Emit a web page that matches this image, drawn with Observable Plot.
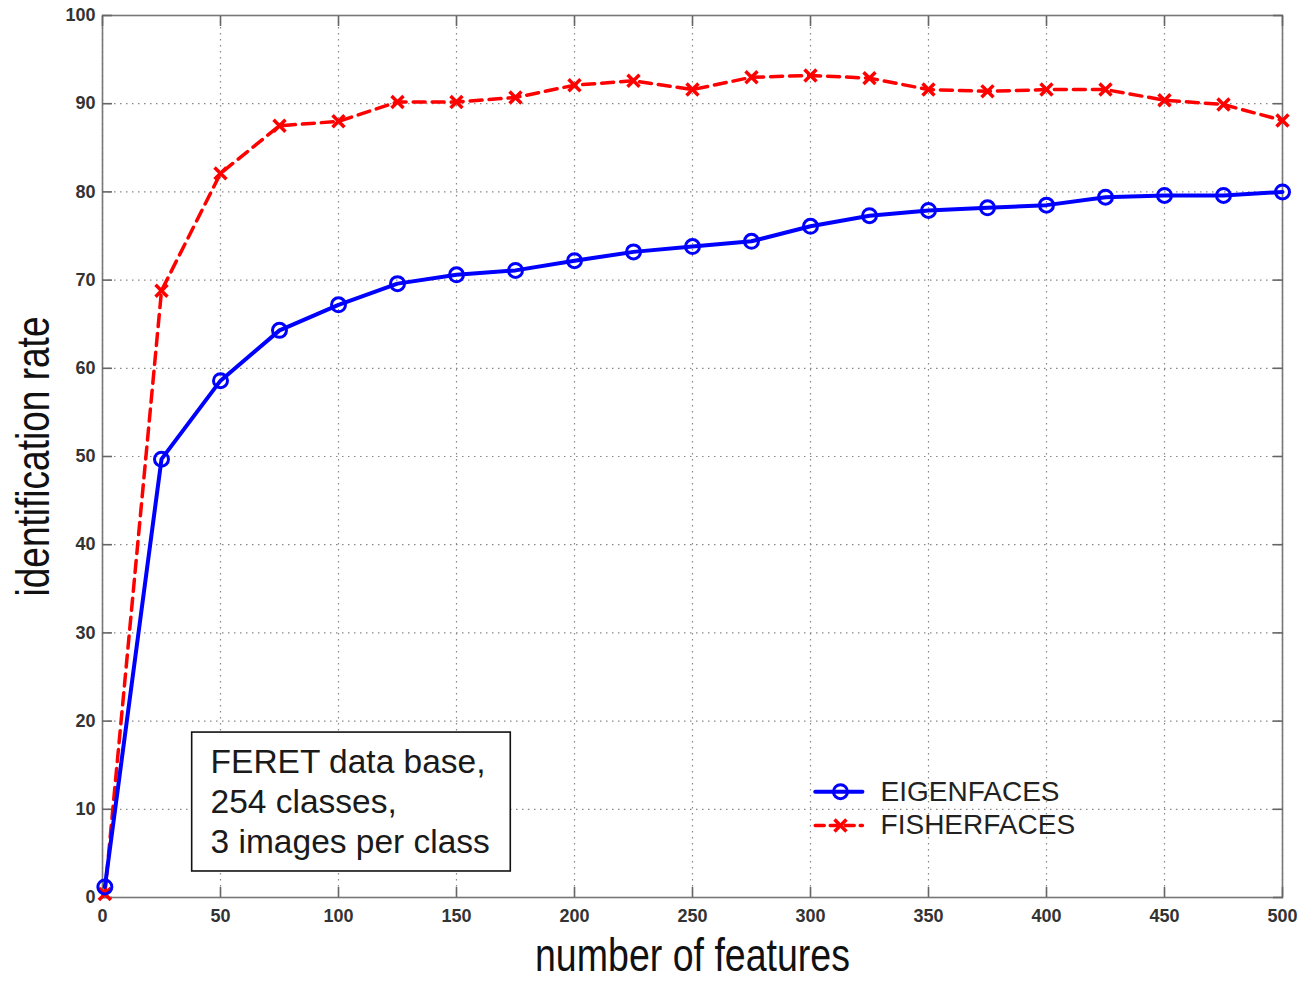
<!DOCTYPE html>
<html><head><meta charset="utf-8">
<script src="https://cdn.jsdelivr.net/npm/d3@7"></script>
<script src="https://cdn.jsdelivr.net/npm/@observablehq/plot@0.6"></script>
<style>body{margin:0;background:#fff}#chart{width:1302px;height:981px}</style>
</head><body><div id="chart"></div>
<script>
// ---- data ----
const features = [1, 25, 50, 75, 100, 125, 150, 175, 200, 225, 250, 275, 300, 325, 350, 375, 400, 425, 450, 475, 500];
const eigenfaces = [1.2, 49.7, 58.6, 64.3, 67.2, 69.6, 70.6, 71.1, 72.2, 73.2, 73.8, 74.4, 76.1, 77.3, 77.9, 78.2, 78.5, 79.4, 79.6, 79.6, 80.0];
const fisherfaces = [0.4, 68.8, 82.1, 87.5, 88.0, 90.2, 90.2, 90.7, 92.1, 92.6, 91.6, 93.0, 93.2, 92.9, 91.6, 91.4, 91.6, 91.6, 90.4, 89.9, 88.1];
const xTicks = [0, 50, 100, 150, 200, 250, 300, 350, 400, 450, 500];
const yTicks = [0, 10, 20, 30, 40, 50, 60, 70, 80, 90, 100];
const seriesNames = ["EIGENFACES", "FISHERFACES"];
const noteLines = ["FERET data base,", "254 classes,", "3 images per class"];
const xLabel = "number of features";
const yLabel = "identification rate";

// ---- annotation placement (data units) ----
const notePos = {x1: 38, x2: 173, y1: 2.95, y2: 18.7, tx: 45.8, ty: 5.0};
const legendPos = {x1: 302, x2: 322, xm: 312.7, xt: 329.7, y: [12.0, 8.16]};

const eigenData = features.map((f, i) => ({x: f, y: eigenfaces[i]}));
const fisherData = features.map((f, i) => ({x: f, y: fisherfaces[i]}));

const BLUE = "#0000ff", RED = "#ff0000";
const tickFont = "'Liberation Sans', Arial, sans-serif";
const blank = () => "";

const legendLines = [
  {x: legendPos.x1, y: legendPos.y[0], s: seriesNames[0]}, {x: legendPos.x2, y: legendPos.y[0], s: seriesNames[0]},
  {x: legendPos.x1, y: legendPos.y[1], s: seriesNames[1]}, {x: legendPos.x2, y: legendPos.y[1], s: seriesNames[1]}
];

const tickStyle = {stroke: "#666", strokeWidth: 1.6, tickSize: 10, tickFormat: blank, label: null};
const tickText = {fontSize: 18, fontWeight: "bold", fill: "#333", label: null, tickSize: 0};
const blueLine = {stroke: BLUE, strokeWidth: 4};
const blueDot = {symbol: "circle", r: 7, fill: "none", stroke: BLUE, strokeWidth: 3};
const redLine = {stroke: RED, strokeWidth: 3.5, strokeDasharray: "12,7"};
const redDot = {symbol: "times", r: 5.5, stroke: RED, strokeWidth: 3.5};

const chart = Plot.plot({
  width: 1302,
  height: 981,
  marginTop: 15,
  marginRight: 20,
  marginBottom: 84,
  marginLeft: 102,
  style: {background: "#fff", fontFamily: tickFont, overflow: "visible"},
  x: {domain: [0, 500]},
  y: {domain: [0, 100]},
  marks: [
    Plot.gridX(xTicks, {stroke: "#888", strokeOpacity: 1, strokeWidth: 1.2, strokeDasharray: "1.5,4.5"}),
    Plot.gridY(yTicks, {stroke: "#888", strokeOpacity: 1, strokeWidth: 1.2, strokeDasharray: "1.5,4.5"}),
    Plot.frame({stroke: "#777", strokeWidth: 1.6}),
    Plot.axisX(xTicks, {anchor: "bottom", dy: -10, ...tickStyle}),
    Plot.axisX(xTicks, {anchor: "top", dy: 10, ...tickStyle}),
    Plot.axisY(yTicks, {anchor: "left", dx: 10, ...tickStyle}),
    Plot.axisY(yTicks, {anchor: "right", dx: -10, ...tickStyle}),
    Plot.axisX(xTicks, {anchor: "bottom", tickPadding: 12, ...tickText}),
    Plot.axisY(yTicks, {anchor: "left", tickPadding: 7, ...tickText}),
    // series
    Plot.line(fisherData, {x: "x", y: "y", ...redLine}),
    Plot.dot(fisherData, {x: "x", y: "y", ...redDot}),
    Plot.line(eigenData, {x: "x", y: "y", ...blueLine}),
    Plot.dot(eigenData, {x: "x", y: "y", ...blueDot}),
    // note box
    Plot.rect([notePos], {x1: "x1", x2: "x2", y1: "y1", y2: "y2", fill: "white", stroke: "#111", strokeWidth: 1.6}),
    Plot.text([noteLines.join("\n")], {x: notePos.tx, y: notePos.ty, textAnchor: "start", lineAnchor: "bottom", lineHeight: 1.2, fontSize: 33.5, fill: "#1a1a1a", fontFamily: tickFont}),
    // legend
    Plot.line(legendLines.filter(d => d.s === seriesNames[0]), {x: "x", y: "y", ...blueLine}),
    Plot.dot([{x: legendPos.xm, y: legendPos.y[0]}], {x: "x", y: "y", ...blueDot}),
    Plot.line(legendLines.filter(d => d.s === seriesNames[1]), {x: "x", y: "y", ...redLine, strokeDasharray: "9,6"}),
    Plot.dot([{x: legendPos.xm, y: legendPos.y[1]}], {x: "x", y: "y", ...redDot}),
    Plot.text(seriesNames, {x: legendPos.xt, y: (d, i) => legendPos.y[i], text: d => d, textAnchor: "start", lineAnchor: "middle", fontSize: 28, fill: "#222", fontFamily: tickFont}),
    // axis titles
    Plot.text([xLabel], {frameAnchor: "bottom", dy: 73, textAnchor: "middle", lineAnchor: "bottom", fontSize: 46, fill: "#111", fontFamily: tickFont}),
    Plot.text([yLabel], {frameAnchor: "left", dx: -54, rotate: -90, textAnchor: "middle", lineAnchor: "bottom", fontSize: 46, fill: "#111", fontFamily: tickFont})
  ]
});
// condense the axis titles like the reference's narrow face
chart.querySelectorAll("text").forEach(t => {
  const s = t.textContent;
  if (s === xLabel) { t.setAttribute("textLength", 315); t.setAttribute("lengthAdjust", "spacingAndGlyphs"); }
  if (s === yLabel) { t.setAttribute("textLength", 280); t.setAttribute("lengthAdjust", "spacingAndGlyphs"); }
});
document.getElementById("chart").append(chart);
</script>
</body></html>
